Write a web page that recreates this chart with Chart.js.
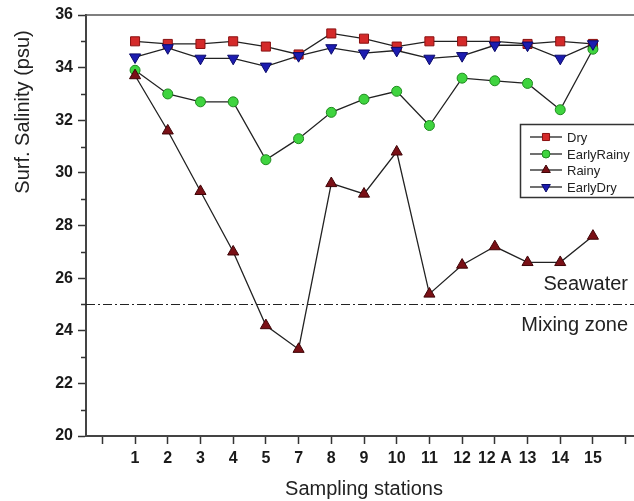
<!DOCTYPE html>
<html>
<head>
<meta charset="utf-8">
<script src="https://cdn.jsdelivr.net/npm/chart.js@4/dist/chart.umd.min.js"></script>
<style>
html,body{margin:0;padding:0;background:#fff;overflow:hidden;width:634px;height:501px;}
#wrap{position:absolute;left:0;top:0;width:650px;height:501px;}
</style>
</head>
<body>
<div id="wrap"><canvas id="c" width="650" height="501"></canvas></div>
<script>
const stations = ['', '1','2','3','4','5','7','8','9','10','11','12','12 A','13','14','15',''];
const dry        = [null,35.0,34.9,34.9,35.0,34.8,34.5,35.3,35.1,34.8,35.0,35.0,35.0,34.9,35.0,34.9,null];
const earlyRainy = [null,33.9,33.0,32.7,32.7,30.5,31.3,32.3,32.8,33.1,31.8,33.6,33.5,33.4,32.4,34.7,null];
const rainy      = [null,33.7,31.6,29.3,27.0,24.2,23.3,29.6,29.2,30.8,25.4,26.5,27.2,26.6,26.6,27.6,null];
const earlyDry   = [null,34.4,34.75,34.35,34.35,34.05,34.45,34.75,34.55,34.65,34.35,34.45,34.85,34.85,34.35,34.9,null];
const yTicks = [20,22,24,26,28,30,32,34,36];
const seawaterLimit = 25;

const FONT = "'Liberation Sans', Arial, sans-serif";

function ds(label, data, style, bg, border, radius, rotation, order) {
  return {
    label, data, order,
    borderColor: '#222', borderWidth: 1.3,
    pointStyle: style, pointRotation: rotation || 0,
    pointRadius: radius, pointHoverRadius: radius,
    pointBackgroundColor: bg, pointBorderColor: border, pointBorderWidth: 1,
    tension: 0, spanGaps: false, fill: false
  };
}

const datasets = [
  ds('Dry', dry, 'rect', '#d42a2a', '#8a1010', 6.4, 0, 4),
  ds('EarlyRainy', earlyRainy, 'circle', '#3fd43f', '#1e8a1e', 5, 0, 3),
  ds('Rainy', rainy, 'triangle', '#7a1016', '#3e0407', 6.4, 0, 2),
  ds('EarlyDry', earlyDry, 'triangle', '#1c1cb0', '#0a0a6a', 6.4, 180, 1)
];

const decor = {
  id: 'decor',
  beforeDatasetsDraw(chart) {
    const {ctx, chartArea: a, scales: {x, y}} = chart;
    ctx.save();
    ctx.strokeStyle = '#555'; ctx.lineWidth = 1.5;
    ctx.beginPath(); ctx.moveTo(a.left, a.top); ctx.lineTo(a.right, a.top); ctx.stroke();
    ctx.strokeStyle = '#333'; ctx.lineWidth = 1.5;
    for (let v = 21; v < 36; v += 2) {
      const py = Math.round(y.getPixelForValue(v)) + 0.5;
      ctx.beginPath(); ctx.moveTo(a.left - 5, py); ctx.lineTo(a.left, py); ctx.stroke();
    }
    const py = Math.round(y.getPixelForValue(seawaterLimit)) + 0.5;
    ctx.strokeStyle = '#222'; ctx.lineWidth = 1.2;
    ctx.setLineDash([9, 3, 2, 3]);
    ctx.beginPath(); ctx.moveTo(a.left, py); ctx.lineTo(a.right, py); ctx.stroke();
    ctx.setLineDash([]);
    ctx.fillStyle = '#222';
    ctx.font = '20px ' + FONT;
    ctx.textAlign = 'right'; ctx.textBaseline = 'middle';
    ctx.fillText('Seawater', 628, py - 20);
    ctx.fillText('Mixing zone', 628, py + 21);
    ctx.restore();
  },
  afterDraw(chart) {
    const {ctx, chartArea: a} = chart;
    ctx.save();
    ctx.fillStyle = '#222';
    ctx.font = '20px ' + FONT;
    ctx.textAlign = 'center'; ctx.textBaseline = 'middle';
    ctx.fillText('Sampling stations', (a.left + a.right) / 2, 489);
    ctx.translate(23, 112);
    ctx.rotate(-Math.PI / 2);
    ctx.fillText('Surf. Salinity (psu)', 0, 0);
    ctx.restore();
    ctx.save();
    const lx = 520, ly = 124, lw = 125, lh = 73;
    ctx.fillStyle = '#fff';
    ctx.fillRect(lx, ly, lw, lh);
    ctx.strokeStyle = '#333'; ctx.lineWidth = 1.5;
    ctx.strokeRect(lx + 0.5, ly + 0.5, lw, lh);
    const rows = [137, 154, 170, 187];
    ctx.font = '13px ' + FONT;
    ctx.textAlign = 'left'; ctx.textBaseline = 'middle';
    chart.data.datasets.forEach((d, i) => {
      const yy = rows[i];
      ctx.strokeStyle = '#222'; ctx.lineWidth = 1.3;
      ctx.beginPath(); ctx.moveTo(530, yy); ctx.lineTo(562, yy); ctx.stroke();
      ctx.fillStyle = d.pointBackgroundColor;
      ctx.strokeStyle = d.pointBorderColor; ctx.lineWidth = 1;
      Chart.helpers.drawPoint(ctx, {
        pointStyle: d.pointStyle, rotation: d.pointRotation,
        radius: d.pointStyle === 'circle' ? 4 : 5, borderWidth: 1
      }, 546, yy);
      ctx.fillStyle = '#222';
      ctx.fillText(d.label, 567, yy + 1);
    });
    ctx.restore();
  }
};

new Chart(document.getElementById('c'), {
  type: 'line',
  data: { labels: stations, datasets },
  options: {
    responsive: false,
    devicePixelRatio: 1,
    animation: false,
    layout: { padding: { left: 0, top: 15, right: 8, bottom: 35 } },
    plugins: { legend: { display: false }, tooltip: { enabled: false } },
    scales: {
      x: {
        type: 'category', offset: true,
        grid: { display: true, drawOnChartArea: false, offset: false, tickLength: 8, tickColor: '#333', tickWidth: 1.5 },
        border: { display: true, color: '#444', width: 2 },
        ticks: { color: '#1a1a1a', font: { family: FONT, size: 16, weight: 'bold' }, padding: 5, autoSkip: false, maxRotation: 0 },
        afterFit: s => { s.height = 30; }
      },
      y: {
        min: 20, max: 36,
        afterBuildTicks: s => { s.ticks = yTicks.map(v => ({ value: v })); },
        grid: { display: true, drawOnChartArea: false, tickLength: 8, tickColor: '#333', tickWidth: 1.5 },
        border: { display: true, color: '#444', width: 2 },
        ticks: { color: '#1a1a1a', font: { family: FONT, size: 16, weight: 'bold' }, padding: 5 },
        afterFit: s => { s.width = 86; }
      }
    }
  },
  plugins: [decor]
});
</script>
</body>
</html>
